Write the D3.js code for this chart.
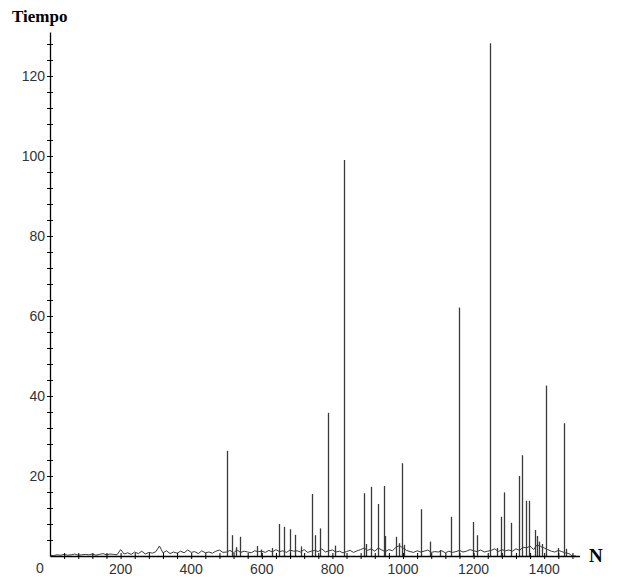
<!DOCTYPE html>
<html>
    <head>
        <title>Tiempo vs N</title>
        <script src="https://d3js.org/d3.v7.min.js"></script>
        <style>
            body { margin: 0; background: #fff; }
            .lbl { font-family: "Liberation Sans", Arial, sans-serif; font-size: 14px; fill: #333; }
            .ttl { font-family: "Liberation Serif", "Times New Roman", serif; font-weight: bold; fill: #000; }
        </style>
    </head>
    <body>
        <script>
            // big spikes: N and tiempo
            const spikeN = [502, 516, 527, 538, 587, 598, 628, 650, 664, 680, 694, 710, 741, 752, 765, 788, 807, 834,
                890, 894, 909, 930, 946, 950, 980, 988, 996, 1003, 1051, 1076, 1105, 1135, 1160, 1199, 1209,
                1246, 1265, 1277, 1286, 1307, 1328, 1337, 1348, 1358, 1373, 1379, 1386, 1393, 1404, 1440, 1455, 1462];
            const spikeT = [26.3, 5.2, 2.2, 4.8, 2.5, 1.6, 2.0, 8.0, 7.3, 6.7, 5.3, 2.4, 15.5, 5.2, 6.9, 35.8, 2.6, 99.0,
                15.7, 3.0, 17.3, 13.0, 17.5, 5.0, 4.8, 3.2, 23.2, 2.8, 11.7, 3.6, 1.5, 9.8, 62.1, 8.5, 5.2,
                128.2, 2.0, 9.8, 15.9, 8.3, 20.0, 25.2, 13.8, 13.8, 6.5, 5.0, 3.6, 3.0, 42.6, 2.0, 33.2, 1.8];

            // small values near the baseline, every 10 N from 0
            const noiseT = [
                0.2, 0.1, 0.3, 0.2, 0.4, 0.2, 0.3, 0.5, 0.2, 0.3,
                0.4, 0.3, 0.5, 0.2, 0.4, 0.6, 0.3, 0.5, 0.4, 0.3,
                1.6, 0.5, 0.8, 0.4, 1.0, 0.6, 1.2, 0.5, 0.9, 0.7,
                1.1, 2.5, 0.8, 1.3, 0.6, 1.0, 0.7, 1.2, 0.8, 1.5,
                0.9, 1.1, 0.6, 1.3, 0.8, 1.0, 0.7, 1.2, 1.5, 0.9,
                1.0, 1.4, 0.8, 1.5, 0.9, 1.2, 1.0, 0.8, 1.3, 1.1,
                1.2, 0.9, 1.4, 1.0, 1.6, 1.1, 1.3, 0.9, 1.5, 1.2,
                1.3, 1.0, 1.6, 0.9, 1.2, 1.4, 1.1, 1.8, 1.0, 1.3,
                1.5, 1.0, 1.2, 0.8, 1.1, 1.4, 0.9, 1.3, 1.6, 2.0,
                1.4, 1.8, 1.2, 2.0, 1.5, 1.1, 1.6, 1.3, 2.2, 2.6,
                2.0, 1.4, 1.1, 0.9, 1.3, 1.0, 1.2, 1.5, 0.9, 1.1,
                1.0, 1.3, 0.8, 1.2, 0.9, 1.1, 1.4, 1.0, 1.2, 1.6,
                1.3, 1.1, 1.5, 1.0, 1.2, 1.4, 1.8, 1.1, 1.6, 1.3,
                1.5, 1.2, 1.8, 1.4, 2.2, 2.0, 2.5, 1.6, 2.8, 2.4,
                2.0, 1.6, 1.2, 1.0, 1.4, 1.1, 0.8, 0.6, 0.0, 0.0
            ];
            const noiseStep = 10;

            const xLabels = [200, 400, 600, 800, 1000, 1200, 1400];
            const yLabels = [20, 40, 60, 80, 100, 120];

            const width = 626, height = 578;

            const svg = d3.select("body")
                .append("svg")
                .attr("width", width)
                .attr("height", height);

            const x = d3.scaleLinear().domain([0, 1500]).range([50, 579.5]);
            const y = d3.scaleLinear().domain([0, 131]).range([556, 32]);

            const xMinor = d3.range(40, 1500, 40);
            const yMinor = d3.range(4, 131, 4);

            // data
            const noise = noiseT.map((t, i) => [i * noiseStep, t]);
            const line = d3.line().x(d => x(d[0])).y(d => y(d[1]));

            svg.append("path")
                .datum(noise)
                .attr("fill", "none")
                .attr("stroke", "#3a3a3a")
                .attr("stroke-width", 1)
                .attr("d", line);

            svg.append("g")
                .selectAll("line")
                .data(spikeN.map((n, i) => [n, spikeT[i]]))
                .enter()
                .append("line")
                .attr("x1", d => Math.round(x(d[0])) + 0.5)
                .attr("x2", d => Math.round(x(d[0])) + 0.5)
                .attr("y1", y(0))
                .attr("y2", d => y(d[1]))
                .attr("stroke", "#3a3a3a")
                .attr("stroke-width", 1.3);

            // axes
            const xAxis = svg.append("g")
                .attr("transform", `translate(0,${y(0)})`)
                .call(d3.axisBottom(x).tickValues(xMinor).tickFormat("").tickSizeOuter(0));
            xAxis.select(".domain").attr("stroke", "#000").attr("stroke-width", 1.3);
            xAxis.selectAll(".tick line").attr("y1", -3).attr("y2", 3).attr("stroke", "#000");

            const yAxis = svg.append("g")
                .attr("transform", `translate(${x(0)},0)`)
                .call(d3.axisLeft(y).tickValues(yMinor).tickFormat("").tickSizeOuter(0));
            yAxis.select(".domain").attr("stroke", "#000").attr("stroke-width", 1.3);
            yAxis.selectAll(".tick line").attr("x1", -3).attr("x2", 3).attr("stroke", "#000");

            svg.append("g")
                .selectAll("text")
                .data(xLabels)
                .enter()
                .append("text")
                .attr("class", "lbl")
                .attr("x", d => x(d))
                .attr("y", 574)
                .attr("text-anchor", "middle")
                .text(d => d);

            svg.append("g")
                .selectAll("text")
                .data(yLabels)
                .enter()
                .append("text")
                .attr("class", "lbl")
                .attr("x", 45)
                .attr("y", d => y(d) + 5)
                .attr("text-anchor", "end")
                .text(d => d);

            svg.append("text")
                .attr("class", "lbl")
                .attr("x", 40)
                .attr("y", 573)
                .attr("text-anchor", "middle")
                .text("0");

            svg.append("text")
                .attr("class", "ttl")
                .attr("x", 12)
                .attr("y", 22)
                .attr("font-size", 17)
                .text("Tiempo");

            svg.append("text")
                .attr("class", "ttl")
                .attr("x", 589)
                .attr("y", 562)
                .attr("font-size", 19)
                .text("N");
        </script>
    </body>
</html>
